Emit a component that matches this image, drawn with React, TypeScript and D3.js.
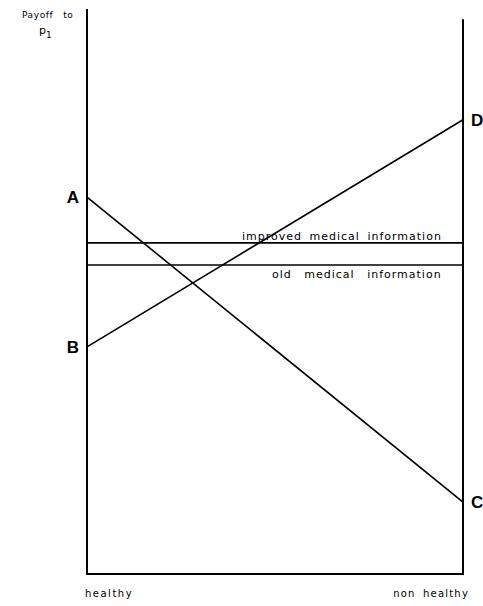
import React from "react";
import * as d3 from "d3";

const xStates = ["healthy", "non healthy"];
const xPositions = [0, 1];
const lineNames = ["AC", "BD"];
const lineStart = [66.7, 40.2]; // payoff at healthy
const lineEnd = [12.7, 80.4]; // payoff at non healthy
const startLabels = ["A", "B"];
const endLabels = ["C", "D"];
const infoNames = ["improved medical information", "old medical information"];
const infoValues = [58.6, 54.7];

const W = 483;
const H = 606;

export default function App() {
  const x = d3.scaleLinear().domain([0, 1]).range([87, 463]);
  const y = d3.scaleLinear().domain([0, 100]).range([574, 9]);
  const line = d3
    .line<[number, number]>()
    .x((d) => x(d[0]))
    .y((d) => y(d[1]));
  const font = "'DejaVu Sans', sans-serif";
  return (
    <svg
      width={W}
      height={H}
      style={{ position: "absolute", left: 0, top: 0, background: "#fff" }}
    >
      {/* axes */}
      <path
        d={line([
          [0, 100],
          [0, 0],
          [1, 0],
          [1, 98.2],
        ])!}
        fill="none"
        stroke="#000"
        strokeWidth={2}
      />
      {/* info lines */}
      {infoValues.map((v, i) => (
        <path
          key={infoNames[i]}
          d={line([
            [0, v],
            [1, v],
          ])!}
          stroke="#000"
          strokeWidth={1.6}
          fill="none"
        />
      ))}
      <text
        x={242}
        y={y(infoValues[0]) - 3}
        fontFamily={font}
        fontSize={11}
        letterSpacing={1}
        wordSpacing={3}
      >
        {infoNames[0]}
      </text>
      <text
        x={272}
        y={y(infoValues[1]) + 13}
        fontFamily={font}
        fontSize={11}
        letterSpacing={1}
        wordSpacing={8}
      >
        {infoNames[1]}
      </text>
      {/* payoff lines */}
      {lineNames.map((n, i) => (
        <path
          key={n}
          d={line([
            [xPositions[0], lineStart[i]],
            [xPositions[1], lineEnd[i]],
          ])!}
          stroke="#000"
          strokeWidth={1.6}
          fill="none"
        />
      ))}
      {startLabels.map((l, i) => (
        <text
          key={l}
          x={x(0) - 8}
          y={y(lineStart[i])}
          dy="0.36em"
          textAnchor="end"
          fontFamily="'Liberation Sans', Arial, sans-serif"
          fontWeight="bold"
          fontSize={17}
        >
          {l}
        </text>
      ))}
      {endLabels.map((l, i) => (
        <text
          key={l}
          x={x(1) + 8}
          y={y(lineEnd[i])}
          dy="0.36em"
          textAnchor="start"
          fontFamily="'Liberation Sans', Arial, sans-serif"
          fontWeight="bold"
          fontSize={17}
        >
          {l}
        </text>
      ))}
      {/* y label */}
      <text x={22} y={18} fontFamily={font} fontSize={9} letterSpacing={0.6}>
        Payoff
        <tspan dx={10}>to</tspan>
      </text>
      <text x={39} y={34} fontFamily={font} fontSize={11}>
        p
        <tspan fontSize={9} dy={4}>
          1
        </tspan>
      </text>
      {/* x labels */}
      <text
        x={x(0) - 2}
        y={597}
        fontFamily={font}
        fontSize={10}
        letterSpacing={1.5}
      >
        {xStates[0]}
      </text>
      <text
        x={x(1) + 6}
        y={597}
        textAnchor="end"
        fontFamily={font}
        fontSize={10}
        letterSpacing={1.2}
        wordSpacing={3}
      >
        {xStates[1]}
      </text>
    </svg>
  );
}
